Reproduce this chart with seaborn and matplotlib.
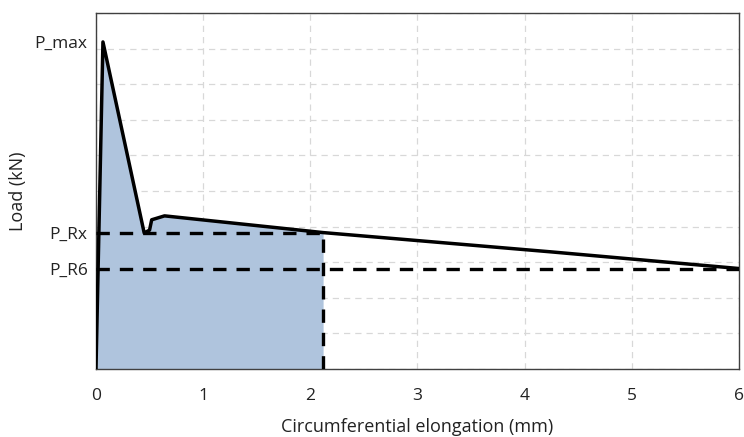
import numpy as np
import pandas as pd
import matplotlib
matplotlib.use("Agg")
import matplotlib.pyplot as plt
import seaborn as sns
from matplotlib.ticker import MultipleLocator

# Data
elongation = [0.0, 0.065, 0.45, 0.50, 0.52, 0.64, 2.12, 4.24, 6.0]
load = [0.0, 9.19, 3.82, 3.90, 4.19, 4.30, 3.83, 3.29, 2.82]
ytick_labels = ["P_max", "P_Rx", "P_R6"]
ytick_values = [9.19, 3.82, 2.81]
x_rx = 2.12

sns.set_theme(style="white")
plt.rcParams['font.family'] = ['Open Sans', 'DejaVu Sans']

fig = plt.figure(figsize=(7.44, 4.37), dpi=100)
ax = fig.add_axes([0.129, 0.156, 0.864, 0.814])

df = pd.DataFrame({"x": elongation, "y": load})

# fill area under curve up to x_rx
xs = np.array(elongation)
ys = np.array(load)
mask = xs <= x_rx
fx = list(xs[mask])
fy = list(ys[mask])
if fx[-1] < x_rx:
    fx.append(x_rx)
    fy.append(np.interp(x_rx, xs, ys))
ax.fill_between(fx, fy, 0, color="#afc4dd", zorder=1, linewidth=0)

sns.lineplot(data=df, x="x", y="y", ax=ax, color="black", linewidth=2.5, zorder=4, sort=False)

# dashed reference lines
dash = (0, (4, 3))
ax.plot([0, x_rx], [ytick_values[1], ytick_values[1]], ls=dash, color="black", lw=2.4, zorder=3)
ax.plot([0, 6], [ytick_values[2], ytick_values[2]], ls=dash, color="black", lw=2.4, zorder=3)
ax.plot([x_rx, x_rx], [0, ytick_values[1]], ls=dash, color="black", lw=2.4, zorder=3)

ax.set_xlim(0, 6)
ax.set_ylim(0, 10)
ax.set_xticks(range(0, 7))
ax.set_yticks(ytick_values)
ax.set_yticklabels(ytick_labels)
ax.yaxis.set_minor_locator(MultipleLocator(1))
ax.grid(which="major", axis="x", color="#d8d8d8", ls=(0, (5, 4)), lw=0.9, zorder=0)
ax.grid(which="minor", axis="y", color="#d8d8d8", ls=(0, (5, 4)), lw=0.9, zorder=0)
ax.grid(which="major", axis="y", visible=False)
ax.set_axisbelow(True)
ax.tick_params(axis="y", which="both", length=0, labelsize=12.5, pad=6, colors="#222222")
ax.tick_params(axis="x", which="both", length=0, labelsize=12.5, pad=14, colors="#222222")
ax.set_xlabel("Circumferential elongation (mm)", fontsize=13, color="#222222", labelpad=10)
ax.set_ylabel("Load (kN)", fontsize=13, color="#222222")
ax.yaxis.set_label_coords(-0.107, 0.5)
for s in ax.spines.values():
    s.set_visible(True)
    s.set_color("#404040")
    s.set_linewidth(1.0)

fig.savefig("out.png", dpi=100)
